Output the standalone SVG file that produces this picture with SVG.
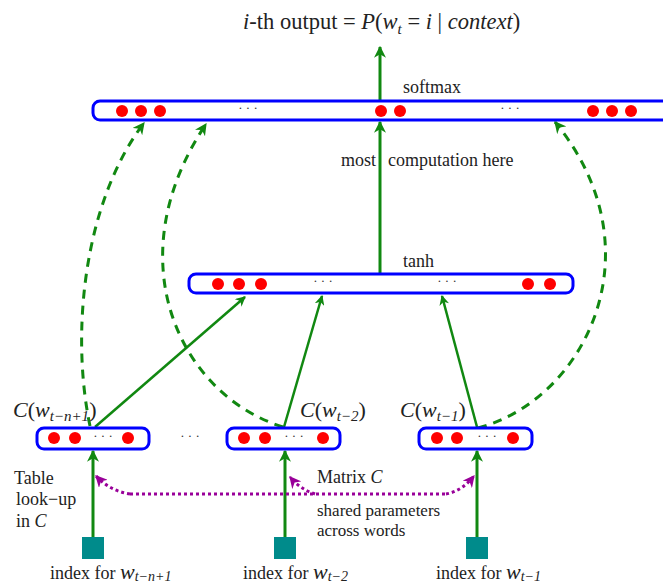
<svg xmlns="http://www.w3.org/2000/svg" width="663" height="585" viewBox="0 0 663 585">
<defs>
<style>
text{font-family:"Liberation Serif","Times New Roman",serif;fill:#222;}
.lbl{font-size:18px;}
.sm{font-size:17px;}
.it{font-style:italic;}
.box{fill:#fff;stroke:#0000ff;stroke-width:3;}
.dot{fill:#ff0000;}
.ell{font-size:13px;fill:#333;}
.g{stroke:#118811;stroke-width:3;fill:none;}
.gd{stroke:#118811;stroke-width:3;fill:none;stroke-dasharray:9,7;}
.p{stroke:#990099;stroke-width:3;fill:none;stroke-dasharray:3,3;}
.sq{fill:#008b8b;}
</style>
<marker id="ga" viewBox="0 0 10 10" refX="9" refY="5" markerWidth="4" markerHeight="4" orient="auto" markerUnits="strokeWidth">
<path d="M0,0 L10,5 L0,10 L3,5 z" fill="#118811"/>
</marker>
<marker id="pa" viewBox="0 0 10 10" refX="9" refY="5" markerWidth="4" markerHeight="4" orient="auto" markerUnits="strokeWidth">
<path d="M0,0 L10,5 L0,10 L3,5 z" fill="#990099"/>
</marker>
</defs>

<text x="243" y="29" style="font-size:22.5px"><tspan class="it">i</tspan>-th output = <tspan class="it">P</tspan>(<tspan class="it">w</tspan><tspan class="it" style="font-size:15px" dy="5">t</tspan><tspan dy="-5"> = </tspan><tspan class="it">i</tspan> | <tspan class="it">context</tspan>)</text>

<g id="connectors">
<line class="g" x1="380" y1="101" x2="380" y2="47" marker-end="url(#ga)"/>
<line class="g" x1="380" y1="274" x2="380" y2="122" marker-end="url(#ga)"/>
<line class="g" style="stroke-width:2.5" x1="95" y1="427" x2="245" y2="297" marker-end="url(#ga)"/>
<line class="g" style="stroke-width:2.5" x1="284" y1="427" x2="322" y2="296" marker-end="url(#ga)"/>
<line class="g" style="stroke-width:2.5" x1="477" y1="427" x2="442" y2="296" marker-end="url(#ga)"/>
<path class="gd" d="M 90 426 C 70 330, 85 200, 144 123" marker-end="url(#ga)"/>
<path class="gd" d="M 283 427 C 180 395, 115 260, 206 124" marker-end="url(#ga)"/>
<path class="gd" d="M 478 428 C 585 400, 660 250, 555 122" marker-end="url(#ga)"/>
<line class="g" x1="93" y1="537" x2="93" y2="451" marker-end="url(#ga)"/>
<line class="g" x1="285" y1="537" x2="285" y2="451" marker-end="url(#ga)"/>
<line class="g" x1="477" y1="537" x2="477" y2="451" marker-end="url(#ga)"/>
<line class="p" x1="130" y1="494" x2="446" y2="494"/>
<path class="p" d="M 130 494 Q 110 491, 96 476" marker-end="url(#pa)"/>
<path class="p" d="M 315 494 Q 300 489, 290 477" marker-end="url(#pa)"/>
<path class="p" d="M 446 494 Q 462 491, 474 476" marker-end="url(#pa)"/>
</g>

<g id="softmax">
<rect class="box" x="93" y="101" width="600" height="19" rx="7"/>
<circle class="dot" cx="122" cy="111" r="6"/>
<circle class="dot" cx="141" cy="111" r="6"/>
<circle class="dot" cx="160" cy="111" r="6"/>
<text class="ell" x="248" y="112" text-anchor="middle">· · ·</text>
<circle class="dot" cx="381" cy="111" r="6"/>
<circle class="dot" cx="400" cy="111" r="6"/>
<text class="ell" x="510" y="112" text-anchor="middle">· · ·</text>
<circle class="dot" cx="593" cy="111" r="6"/>
<circle class="dot" cx="612" cy="111" r="6"/>
<circle class="dot" cx="631" cy="111" r="6"/>
<text class="lbl" x="403" y="93">softmax</text>
</g>

<text class="lbl" x="341" y="166">most</text>
<text class="lbl" x="388" y="166">computation here</text>

<g id="tanh">
<rect class="box" x="189" y="274" width="384" height="19" rx="7"/>
<circle class="dot" cx="218" cy="284" r="6"/>
<circle class="dot" cx="239" cy="284" r="6"/>
<circle class="dot" cx="261" cy="284" r="6"/>
<text class="ell" x="323" y="285" text-anchor="middle">· · ·</text>
<text class="ell" x="447" y="285" text-anchor="middle">· · ·</text>
<circle class="dot" cx="528" cy="284" r="6"/>
<circle class="dot" cx="550" cy="284" r="6"/>
<text class="lbl" x="403" y="267">tanh</text>
</g>

<g id="c1">
<rect class="box" x="37" y="428" width="112" height="21" rx="7"/>
<circle class="dot" cx="54" cy="438" r="6"/>
<circle class="dot" cx="75" cy="438" r="6"/>
<text class="ell" x="103" y="440" text-anchor="middle">· · ·</text>
<circle class="dot" cx="128" cy="438" r="6"/>
<text x="13" y="417" style="font-size:22px"><tspan class="it">C</tspan>(<tspan class="it">w</tspan><tspan class="it" style="font-size:15px" dy="4">t−n+1</tspan><tspan dy="-4">)</tspan></text>
</g>

<text class="ell" x="190" y="440" text-anchor="middle">· · ·</text>

<g id="c2">
<rect class="box" x="227" y="428" width="113" height="21" rx="7"/>
<circle class="dot" cx="244" cy="438" r="6"/>
<circle class="dot" cx="265" cy="438" r="6"/>
<text class="ell" x="294" y="440" text-anchor="middle">· · ·</text>
<circle class="dot" cx="323" cy="438" r="6"/>
<text x="300" y="417" style="font-size:22px"><tspan class="it">C</tspan>(<tspan class="it">w</tspan><tspan class="it" style="font-size:15px" dy="4">t−2</tspan><tspan dy="-4">)</tspan></text>
</g>

<g id="c3">
<rect class="box" x="419" y="428" width="113" height="21" rx="7"/>
<circle class="dot" cx="437" cy="438" r="6"/>
<circle class="dot" cx="457" cy="438" r="6"/>
<text class="ell" x="487" y="440" text-anchor="middle">· · ·</text>
<circle class="dot" cx="513" cy="438" r="6"/>
<text x="400" y="417" style="font-size:22px"><tspan class="it">C</tspan>(<tspan class="it">w</tspan><tspan class="it" style="font-size:15px" dy="4">t−1</tspan><tspan dy="-4">)</tspan></text>
</g>

<g id="idx1">
<rect class="sq" x="82" y="537" width="22" height="22"/>
<text class="lbl" x="50" y="579">index for <tspan class="it" style="font-size:22px">w</tspan><tspan class="it" style="font-size:14px" dy="2">t−n+1</tspan></text>
</g>
<g id="idx2">
<rect class="sq" x="274" y="537" width="22" height="22"/>
<text class="lbl" x="243" y="579">index for <tspan class="it" style="font-size:22px">w</tspan><tspan class="it" style="font-size:14px" dy="2">t−2</tspan></text>
</g>
<g id="idx3">
<rect class="sq" x="466" y="537" width="22" height="22"/>
<text class="lbl" x="436" y="579">index for <tspan class="it" style="font-size:22px">w</tspan><tspan class="it" style="font-size:14px" dy="2">t−1</tspan></text>
</g>

<text class="lbl" x="14" y="484">Table</text>
<text class="lbl" x="16" y="505">look−up</text>
<text class="lbl" x="16" y="527">in <tspan class="it">C</tspan></text>
<text class="lbl" x="317" y="483">Matrix <tspan class="it">C</tspan></text>
<text class="sm" x="317" y="516">shared parameters</text>
<text class="sm" x="317" y="536">across words</text>
</svg>
